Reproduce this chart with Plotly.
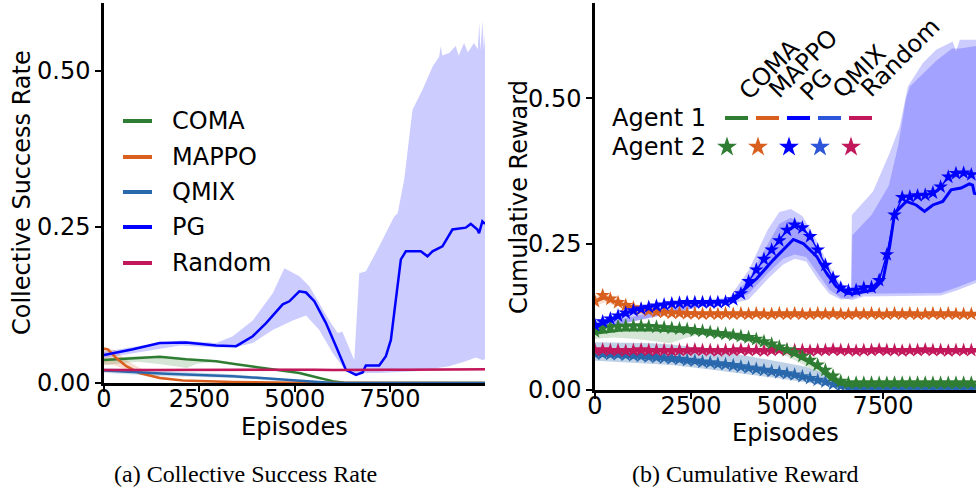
import plotly.graph_objects as go

W, H = 976, 495

# ---------------- (a) Collective Success Rate ----------------
pg_ep = [0, 760, 1460, 2155, 2940, 3465, 3900, 4250, 4686, 4860, 5122, 5297, 5515, 5820,
         6082, 6344, 6606, 6780, 6867, 7216, 7391, 7522, 7653, 7784, 7915, 8307, 8482,
         8613, 8874, 9136, 9485, 9616, 9791, 9834, 9921, 9990]
pg_rate = [0.045, 0.054, 0.064, 0.065, 0.060, 0.059, 0.075, 0.096, 0.126, 0.131, 0.147,
           0.145, 0.131, 0.096, 0.059, 0.021, 0.013, 0.017, 0.028, 0.028, 0.043, 0.069,
           0.134, 0.198, 0.211, 0.211, 0.203, 0.211, 0.219, 0.246, 0.249, 0.255, 0.246,
           0.240, 0.259, 0.255]
pg_hi_ep = [0, 1000, 2000, 2940, 3377, 3900, 4424, 4730, 5122, 5384, 5908, 6126, 6250,
            6431, 6562, 6693, 6867, 7216, 7609, 7700, 7871, 8089, 8351, 8613, 8787, 8830,
            8870, 9049, 9223, 9300, 9441, 9540, 9703, 9800, 9840, 9870, 9921, 9960, 9990]
pg_hi = [0.050, 0.060, 0.068, 0.064, 0.075, 0.100, 0.144, 0.184, 0.171, 0.155, 0.100,
         0.080, 0.082, 0.056, 0.037, 0.176, 0.179, 0.219, 0.267, 0.272, 0.326, 0.438,
         0.470, 0.507, 0.523, 0.540, 0.525, 0.529, 0.540, 0.525, 0.545, 0.530, 0.545,
         0.535, 0.577, 0.533, 0.580, 0.535, 0.560]
pg_lo_ep = [0, 1000, 2000, 3000, 3500, 3900, 4424, 4948, 5297, 5646, 5995, 6344, 6606,
            6867, 7216, 8176, 9049, 9485, 9747, 9921, 9990]
pg_lo = [0.040, 0.050, 0.060, 0.057, 0.058, 0.064, 0.085, 0.100, 0.108, 0.085, 0.048,
         0.019, 0.012, 0.016, 0.016, 0.019, 0.027, 0.035, 0.041, 0.037, 0.038]

coma_ep = [0, 760, 1460, 2155, 2940, 3377, 4250, 5122, 5646, 5995, 6300, 9990]
coma_rate = [0.037, 0.040, 0.042, 0.038, 0.035, 0.031, 0.024, 0.016, 0.008, 0.003, 0.0005, 0.0]
coma_band_ep = [0, 870, 1500, 2170, 2430, 2900, 3300]
coma_band_hi = [0.040, 0.043, 0.043, 0.040, 0.038, 0.036, 0.032]
coma_band_lo = [0.029, 0.034, 0.030, 0.024, 0.031, 0.034, 0.030]

mappo_ep = [0, 100, 323, 585, 934, 1460, 2068, 3377, 5000, 9990]
mappo_rate = [0.055, 0.054, 0.040, 0.027, 0.016, 0.008, 0.004, 0.0016, 0.0005, 0.0]
mappo_band_ep = [0, 300, 600, 1000, 1500, 2100]
mappo_band_hi = [0.058, 0.052, 0.036, 0.022, 0.011, 0.005]
mappo_band_lo = [0.030, 0.028, 0.020, 0.012, 0.006, 0.003]

qmix_ep = [0, 1630, 3377, 4686, 5559, 6000, 9990]
qmix_rate = [0.020, 0.015, 0.011, 0.005, 0.002, 0.0, 0.0]
qmix_band_hi = [0.024, 0.019, 0.014, 0.007, 0.003, 0.001, 0.0]
qmix_band_lo = [0.016, 0.011, 0.008, 0.003, 0.001, 0.0, 0.0]

rand_ep = [0, 500, 1000, 1500, 2000, 2500, 3000, 3500, 4000, 4500, 5000, 5500, 6000,
           6500, 7000, 7500, 8000, 8500, 9000, 9500, 9990]
rand_rate = [0.021, 0.0205, 0.021, 0.0208, 0.021, 0.0212, 0.0207, 0.021, 0.0211, 0.0209,
             0.021, 0.0213, 0.0208, 0.0212, 0.021, 0.0214, 0.0211, 0.0215, 0.0213, 0.0216, 0.022]

# ---------------- (b) Cumulative Reward ----------------
star_ep = list(range(0, 10000, 200))

pg1_ep = [0, 753, 1358, 2050, 2915, 3434, 3780, 4213, 4645, 4905, 5164, 5424, 5770, 6030,
          6290, 6549, 6722, 7240, 7500, 7673, 7803, 8106, 8365, 8581, 8798, 9057, 9273,
          9533, 9749, 9835, 9879, 9990]
pg1_rew = [0.108, 0.131, 0.143, 0.149, 0.150, 0.151, 0.166, 0.191, 0.223, 0.240, 0.258,
           0.251, 0.229, 0.200, 0.177, 0.166, 0.165, 0.171, 0.189, 0.246, 0.303, 0.323,
           0.317, 0.306, 0.317, 0.323, 0.343, 0.346, 0.353, 0.351, 0.337, 0.335]
pg2_rew = [0.111, 0.117, 0.122, 0.127, 0.132, 0.136, 0.139, 0.142, 0.144, 0.146,
           0.148, 0.149, 0.150, 0.150, 0.150, 0.150, 0.150, 0.151, 0.155, 0.165,
           0.186, 0.206, 0.224, 0.240, 0.256, 0.274, 0.283, 0.278, 0.263, 0.240,
           0.214, 0.192, 0.175, 0.170, 0.171, 0.175, 0.176, 0.188, 0.232, 0.300,
           0.330, 0.331, 0.333, 0.334, 0.338, 0.348, 0.365, 0.371, 0.372, 0.369]
pg1_hi_ep = [0, 3000, 3500, 4000, 4500, 4800, 5100, 5400, 5700, 6000, 6300, 6600, 6680,
             6700, 7200, 7650, 7900, 8100, 8200, 8500, 8900, 9300, 9500, 9990]
pg1_hi = [0.112, 0.153, 0.155, 0.190, 0.250, 0.285, 0.295, 0.285, 0.250, 0.210, 0.180,
          0.165, 0.165, 0.265, 0.300, 0.350, 0.420, 0.500, 0.520, 0.540, 0.565, 0.585,
          0.585, 0.590]
pg1_lo_ep = [0, 3000, 3500, 4000, 4500, 4900, 5200, 5500, 5800, 6100, 6400, 6700, 7000,
             9000, 9400, 9990]
pg1_lo = [0.103, 0.146, 0.147, 0.155, 0.190, 0.215, 0.225, 0.220, 0.190, 0.165, 0.155,
          0.157, 0.165, 0.166, 0.175, 0.190]
pg2_hi_ep = [0, 3000, 3500, 4000, 4500, 4800, 5100, 5400, 5700, 6000, 6300, 6600, 6660,
             6690, 7240, 7673, 7933, 8149, 8538, 8884, 9317, 9400, 9500, 9990]
pg2_hi = [0.118, 0.156, 0.158, 0.205, 0.275, 0.305, 0.310, 0.298, 0.265, 0.225, 0.190,
          0.172, 0.170, 0.300, 0.340, 0.406, 0.451, 0.520, 0.560, 0.583, 0.597, 0.580,
          0.600, 0.600]
pg2_lo_ep = [0, 3000, 3500, 4000, 4500, 4900, 5200, 5500, 5800, 6100, 6400, 6700, 7000,
             9000, 9400, 9990]
pg2_lo = [0.104, 0.146, 0.149, 0.165, 0.200, 0.225, 0.232, 0.228, 0.200, 0.172, 0.158,
          0.154, 0.160, 0.162, 0.170, 0.185]

mappo1_ep = [0, 250, 500, 753, 1100, 1617, 2400, 3300, 5000, 9990]
mappo1_rew = [0.152, 0.158, 0.152, 0.146, 0.140, 0.134, 0.131, 0.130, 0.129, 0.129]
mappo2_rew = [0.152, 0.162, 0.156, 0.150, 0.145, 0.141, 0.138, 0.136, 0.134, 0.133,
              0.132, 0.132, 0.131, 0.131, 0.130, 0.131, 0.130, 0.131, 0.130, 0.131,
              0.130, 0.131, 0.130, 0.130, 0.131, 0.130, 0.131, 0.130, 0.130, 0.131,
              0.130, 0.131, 0.130, 0.130, 0.131, 0.130, 0.131, 0.130, 0.130, 0.131,
              0.130, 0.131, 0.130, 0.130, 0.131, 0.130, 0.131, 0.130, 0.130, 0.130]
mappo_r_band_ep = [0, 250, 500, 800, 1200, 1600, 2400, 9990]
mappo_r_band_hi = [0.160, 0.166, 0.160, 0.152, 0.144, 0.138, 0.134, 0.133]
mappo_r_band_lo = [0.144, 0.150, 0.146, 0.140, 0.134, 0.130, 0.128, 0.127]

coma1_ep = [0, 753, 1600, 2483, 3348, 4213, 4645, 5078, 5510, 5856, 6116, 6376, 6600, 9990]
coma1_rew = [0.097, 0.103, 0.103, 0.100, 0.094, 0.085, 0.077, 0.065, 0.050, 0.036, 0.020,
             0.010, 0.008, 0.009]
coma2_rew = [0.100, 0.106, 0.108, 0.109, 0.110, 0.110, 0.110, 0.109, 0.108, 0.107,
             0.106, 0.105, 0.104, 0.102, 0.101, 0.099, 0.097, 0.096, 0.094, 0.092,
             0.090, 0.087, 0.083, 0.079, 0.074, 0.069, 0.064, 0.058, 0.051, 0.043,
             0.034, 0.024, 0.015, 0.012, 0.012, 0.012, 0.012, 0.012, 0.012, 0.012,
             0.012, 0.012, 0.012, 0.012, 0.012, 0.012, 0.012, 0.012, 0.012, 0.012]
coma_r_band_ep = [0, 500, 1000, 1500, 1950, 2300, 2700, 3300, 4000, 5000, 6000, 6500, 9990]
coma_r_band_hi = [0.103, 0.110, 0.113, 0.112, 0.110, 0.108, 0.105, 0.100, 0.093, 0.072,
                  0.036, 0.016, 0.014]
coma_r_band_lo = [0.088, 0.090, 0.088, 0.084, 0.080, 0.088, 0.095, 0.091, 0.082, 0.058,
                  0.024, 0.006, 0.006]

qmix1_ep = [0, 753, 1617, 2483, 3348, 4213, 5078, 5943, 6300, 6700, 9990]
qmix1_rew = [0.060, 0.058, 0.054, 0.049, 0.043, 0.035, 0.026, 0.015, 0.007, 0.003, 0.003]
qmix2_rew = [0.062, 0.062, 0.061, 0.061, 0.060, 0.059, 0.058, 0.057, 0.056, 0.055,
             0.054, 0.053, 0.051, 0.050, 0.048, 0.047, 0.045, 0.044, 0.042, 0.040,
             0.038, 0.036, 0.034, 0.032, 0.030, 0.028, 0.026, 0.023, 0.020, 0.017,
             0.014, 0.010, 0.007, 0.005, 0.004, 0.004, 0.004, 0.004, 0.004, 0.004,
             0.004, 0.004, 0.004, 0.004, 0.004, 0.004, 0.004, 0.004, 0.004, 0.004]
qmix_r_band_ep = [0, 1500, 2000, 3000, 4000, 5000, 5500, 6000, 6500, 7000, 9990]
qmix_r_band_hi = [0.082, 0.080, 0.078, 0.070, 0.058, 0.046, 0.040, 0.027, 0.010, 0.005, 0.005]
qmix_r_band_lo = [0.050, 0.045, 0.043, 0.035, 0.027, 0.018, 0.013, 0.008, 0.002, 0.0, 0.0]

rand1_ep = [0, 1000, 2000, 3000, 4000, 5000, 6000, 7000, 8000, 9000, 9990]
rand1_rew = [0.067, 0.067, 0.068, 0.067, 0.067, 0.068, 0.067, 0.067, 0.068, 0.067, 0.067]
rand2_rew = [0.068, 0.069, 0.068, 0.068, 0.067, 0.068, 0.069, 0.068, 0.068, 0.068,
             0.067, 0.068, 0.068, 0.069, 0.068, 0.068, 0.067, 0.068, 0.068, 0.069,
             0.068, 0.068, 0.067, 0.068, 0.069, 0.068, 0.068, 0.068, 0.067, 0.068,
             0.068, 0.069, 0.068, 0.068, 0.067, 0.068, 0.068, 0.069, 0.068, 0.068,
             0.067, 0.068, 0.068, 0.069, 0.068, 0.068, 0.067, 0.068, 0.068, 0.068]
rand_r_band_hi = [0.071, 0.071, 0.072, 0.071, 0.071, 0.072, 0.071, 0.071, 0.072, 0.071, 0.071]
rand_r_band_lo = [0.064, 0.064, 0.065, 0.064, 0.064, 0.065, 0.064, 0.064, 0.065, 0.064, 0.064]

methods = ["COMA", "MAPPO", "QMIX", "PG", "Random"]
right_order = ["COMA", "MAPPO", "PG", "QMIX", "Random"]
colors = {"COMA": "#2e7d32", "MAPPO": "#d95f1e", "QMIX": "#2a68ad", "PG": "#0000ff",
          "Random": "#c2185b"}
legend_colors_b = {"COMA": "#2e7d32", "MAPPO": "#d95f1e", "PG": "#0000ff",
                   "QMIX": "#2d55d9", "Random": "#c2185b"}


def rgba(hex_color, a):
    h = hex_color.lstrip("#")
    r, g, b = int(h[0:2], 16), int(h[2:4], 16), int(h[4:6], 16)
    return f"rgba({r},{g},{b},{a})"


def px(x):
    return x / W


def py(y):
    return 1 - y / H


FONT = "DejaVu Sans"
fig = go.Figure()


def band(xs_hi, hi, xs_lo, lo, color, xa, ya, alpha=0.2):
    fig.add_trace(go.Scatter(
        x=list(xs_hi) + list(xs_lo)[::-1], y=list(hi) + list(lo)[::-1],
        fill="toself", fillcolor=rgba(color, alpha), line=dict(width=0),
        mode="lines", hoverinfo="skip", showlegend=False, xaxis=xa, yaxis=ya))


def line(xs, ys, color, xa, ya, width=2.5):
    fig.add_trace(go.Scatter(x=xs, y=ys, mode="lines", line=dict(color=color, width=width),
                             showlegend=False, xaxis=xa, yaxis=ya))


# ----- panel (a)
band(coma_band_ep, coma_band_hi, coma_band_ep, coma_band_lo, colors["COMA"], "x", "y")
band(mappo_band_ep, mappo_band_hi, mappo_band_ep, mappo_band_lo, colors["MAPPO"], "x", "y")
band(qmix_ep, qmix_band_hi, qmix_ep, qmix_band_lo, colors["QMIX"], "x", "y")
band(rand_ep, [v + 0.002 for v in rand_rate], rand_ep, [v - 0.002 for v in rand_rate],
     colors["Random"], "x", "y")
band(pg_hi_ep, pg_hi, pg_lo_ep, pg_lo, colors["PG"], "x", "y")
line(coma_ep, coma_rate, colors["COMA"], "x", "y")
line(mappo_ep, mappo_rate, colors["MAPPO"], "x", "y")
line(qmix_ep, qmix_rate, colors["QMIX"], "x", "y")
line(pg_ep, pg_rate, colors["PG"], "x", "y")
line(rand_ep, rand_rate, colors["Random"], "x", "y")

# ----- panel (b)
band(coma_r_band_ep, coma_r_band_hi, coma_r_band_ep, coma_r_band_lo, colors["COMA"], "x2", "y2")
band(mappo_r_band_ep, mappo_r_band_hi, mappo_r_band_ep, mappo_r_band_lo, colors["MAPPO"], "x2", "y2")
band(qmix_r_band_ep, qmix_r_band_hi, qmix_r_band_ep, qmix_r_band_lo, colors["QMIX"], "x2", "y2", 0.3)
band(rand1_ep, rand_r_band_hi, rand1_ep, rand_r_band_lo, colors["Random"], "x2", "y2")
band(pg1_hi_ep, pg1_hi, pg1_lo_ep, pg1_lo, colors["PG"], "x2", "y2")
band(pg2_hi_ep, pg2_hi, pg2_lo_ep, pg2_lo, colors["PG"], "x2", "y2")

agent1 = {"COMA": (coma1_ep, coma1_rew), "MAPPO": (mappo1_ep, mappo1_rew),
          "PG": (pg1_ep, pg1_rew), "QMIX": (qmix1_ep, qmix1_rew),
          "Random": (rand1_ep, rand1_rew)}
agent2 = {"COMA": coma2_rew, "MAPPO": mappo2_rew, "PG": pg2_rew, "QMIX": qmix2_rew,
          "Random": rand2_rew}

for m in ["QMIX", "Random", "COMA", "MAPPO", "PG"]:
    xs, ys = agent1[m]
    line(xs, ys, colors[m], "x2", "y2", width=3)
    fig.add_trace(go.Scatter(
        x=star_ep, y=agent2[m], mode="lines+markers",
        line=dict(color=colors[m], width=1.5),
        marker=dict(symbol="star", size=11, color=colors[m], line=dict(width=0)),
        showlegend=False, xaxis="x2", yaxis="y2"))

# ----- legend glyphs on a pixel-space overlay
leg_a_y = [121, 157, 192, 227, 263]
for m, yy in zip(methods, leg_a_y):
    fig.add_trace(go.Scatter(x=[123, 152], y=[yy, yy], mode="lines",
                             line=dict(color=colors[m], width=4),
                             showlegend=False, xaxis="x3", yaxis="y3", hoverinfo="skip"))

seg_x = [725, 756, 787, 818, 849]
for m, sx in zip(right_order, seg_x):
    fig.add_trace(go.Scatter(x=[sx, sx + 23], y=[118, 118], mode="lines",
                             line=dict(color=legend_colors_b[m], width=4),
                             showlegend=False, xaxis="x3", yaxis="y3", hoverinfo="skip"))
    fig.add_trace(go.Scatter(x=[sx + 2], y=[147], mode="markers",
                             marker=dict(symbol="star", size=15, color=legend_colors_b[m],
                                         line=dict(width=0)),
                             showlegend=False, xaxis="x3", yaxis="y3", hoverinfo="skip"))

ann = []


def text(x, y, s, size=24, family=FONT, xanchor="center", yanchor="middle", angle=0):
    ann.append(dict(x=px(x), y=py(y), xref="paper", yref="paper", text=s, showarrow=False,
                    font=dict(family=family, size=size, color="black"),
                    xanchor=xanchor, yanchor=yanchor, textangle=angle))


for m, yy in zip(methods, leg_a_y):
    text(170, yy, m, xanchor="left")
text(610, 118, "Agent 1", xanchor="left")
text(610, 147, "Agent 2", xanchor="left")
rot_centers = [(769, 70), (803, 64), (816, 85), (859, 72), (900, 58)]
for m, (cx, cy) in zip(right_order, rot_centers):
    text(cx, cy, m, angle=-45)

text(22, 193, "Collective Success Rate", angle=-90)
text(519, 197, "Cumulative Reward", angle=-90)
text(294, 427, "Episodes")
text(785, 433, "Episodes")
text(246, 474, "(a) Collective Success Rate", size=24, family="Liberation Serif")
text(745, 474, "(b) Cumulative Reward", size=24, family="Liberation Serif")

axis_common = dict(showline=True, linecolor="black", linewidth=2.5, ticks="outside",
                   ticklen=6, tickwidth=2, tickcolor="black", showgrid=False,
                   zeroline=False, automargin=False,
                   tickfont=dict(family=FONT, size=24, color="black"))

fig.update_layout(
    width=W, height=H, margin=dict(l=0, r=0, t=0, b=0),
    paper_bgcolor="white", plot_bgcolor="rgba(0,0,0,0)", template="none",
    showlegend=False, annotations=ann,
    xaxis=dict(domain=[px(104), px(485)], range=[0, 9990], anchor="y",
               tickvals=[0, 2500, 5000, 7500], ticklabelstandoff=-14, **axis_common),
    yaxis=dict(domain=[py(383), py(3)], range=[0, 0.609], anchor="x",
               tickvals=[0, 0.25, 0.5], ticktext=["0.00", "0.25", "0.50"], **axis_common),
    xaxis2=dict(domain=[px(595), 1.0], range=[0, 9922], anchor="y2",
                tickvals=[0, 2500, 5000, 7500], ticklabelstandoff=-14, **axis_common),
    yaxis2=dict(domain=[py(390), py(3)], range=[0, 0.663], anchor="x2",
                tickvals=[0, 0.25, 0.5], ticktext=["0.00", "0.25", "0.50"], **axis_common),
    xaxis3=dict(domain=[0, 1], range=[0, W], visible=False, anchor="y3", fixedrange=True),
    yaxis3=dict(domain=[0, 1], range=[H, 0], visible=False, anchor="x3", fixedrange=True),
)

fig.write_html("out.html")
